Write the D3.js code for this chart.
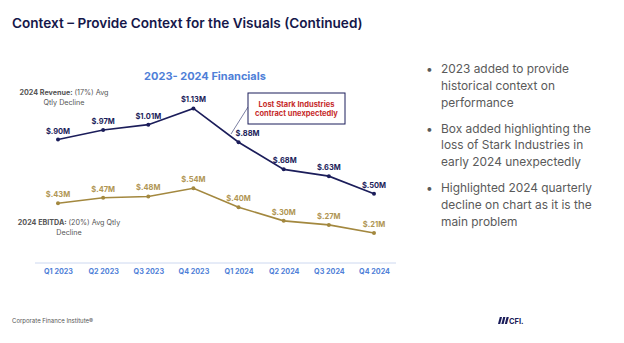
<!DOCTYPE html>
<html>
<head>
  <meta charset="utf-8">
  <title>2023-2024 Financials</title>
  <script src="https://cdnjs.cloudflare.com/ajax/libs/d3/7.8.5/d3.min.js"></script>
  <style>
    html, body { margin: 0; padding: 0; background: #fff; }
    svg { display: block; font-family: Inter, "Noto Sans", sans-serif; }
  </style>
</head>
<body>
  <svg id="chart" width="624" height="343"></svg>
  <script>
    const quarters = ['Q1 2023', 'Q2 2023', 'Q3 2023', 'Q4 2023', 'Q1 2024', 'Q2 2024', 'Q3 2024', 'Q4 2024']
    const revenue = [0.90, 0.97, 1.01, 1.13, 0.88, 0.68, 0.63, 0.50]
    const revenueLabels = ['$.90M', '$.97M', '$1.01M', '$1.13M', '$.88M', '$.68M', '$.63M', '$.50M']
    const ebitda = [0.43, 0.47, 0.48, 0.54, 0.40, 0.30, 0.27, 0.21]
    const ebitdaLabels = ['$.43M', '$.47M', '$.48M', '$.54M', '$.40M', '$.30M', '$.27M', '$.21M']
    const bullets = [
      ['2023 added to provide', 'historical context on', 'performance'],
      ['Box added highlighting the', 'loss of Stark Industries in', 'early 2024 unexpectedly'],
      ['Highlighted 2024 quarterly', 'decline on chart as it is the', 'main problem']
    ]

    const navy = '#1b1d5a'
    const gold = '#a3883f'
    const blue = '#4f7fd8'

    const svg = d3.select('#chart')

    // page title
    svg.append('text')
      .attr('x', 12).attr('y', 28)
      .attr('font-size', 13.6).attr('font-weight', 600)
      .attr('fill', '#15174a')
      .text('Context – Provide Context for the Visuals (Continued)')

    // chart title
    svg.append('text')
      .attr('x', 205).attr('y', 80)
      .attr('text-anchor', 'middle')
      .attr('font-size', 11).attr('font-weight', 700)
      .attr('fill', blue)
      .text('2023- 2024 Financials')

    const x = d3.scalePoint().domain(quarters).range([58, 374])
    const y = d3.scaleLinear().domain([0, 1.2]).range([261.5, 98.9])

    // baseline + quarter labels
    svg.append('line')
      .attr('x1', 35).attr('x2', 396)
      .attr('y1', 263).attr('y2', 263)
      .attr('stroke', '#cdd8f0').attr('stroke-width', 1)

    const xAxis = svg.append('g')
      .attr('transform', 'translate(0,263)')
      .call(d3.axisBottom(x).tickSize(0).tickPadding(6))
    xAxis.select('.domain').remove()
    xAxis.selectAll('text')
      .attr('font-family', 'Inter, sans-serif')
      .attr('font-size', 7.2).attr('font-weight', 700)
      .attr('fill', blue)

    const line = d3.line().x((d, i) => x(quarters[i])).y(d => y(d))

    function series(values, labels, color, labelColor, offsets) {
      svg.append('path')
        .datum(values)
        .attr('d', line)
        .attr('fill', 'none')
        .attr('stroke', color)
        .attr('stroke-width', 1.6)
      svg.append('g').selectAll('circle')
        .data(values).join('circle')
        .attr('cx', (d, i) => x(quarters[i]))
        .attr('cy', d => y(d))
        .attr('r', 2)
        .attr('fill', color)
      svg.append('g').selectAll('text')
        .data(values).join('text')
        .attr('x', (d, i) => x(quarters[i]) + (offsets[i] || 0))
        .attr('y', d => y(d) - 6)
        .attr('text-anchor', 'middle')
        .attr('font-size', 7.5).attr('font-weight', 700)
        .attr('fill', labelColor)
        .text((d, i) => labels[i])
    }

    series(revenue, revenueLabels, navy, navy, [0, 0, 0, 0, 9, 1, 0, 0])
    series(ebitda, ebitdaLabels, gold, '#b09654', [0, 0, 0, 0, 0, 0, 0, 0])

    // side notes on the chart
    function note(xc, y0, bold, rest, second) {
      const t = svg.append('text')
        .attr('x', xc).attr('y', y0)
        .attr('text-anchor', 'middle')
        .attr('font-size', 7.2).attr('fill', '#555')
      t.append('tspan').attr('font-weight', 700).text(bold)
      t.append('tspan').text(rest)
      svg.append('text')
        .attr('x', xc).attr('y', y0 + 9.5)
        .attr('text-anchor', 'middle')
        .attr('font-size', 7.2).attr('fill', '#555')
        .text(second)
    }
    note(64, 95, '2024 Revenue: ', '(17%) Avg', 'Qtly Decline')
    note(69, 225, '2024 EBITDA: ', '(20%) Avg Qtly', 'Decline')

    // callout box
    svg.append('line')
      .attr('x1', 248).attr('y1', 107)
      .attr('x2', 231).attr('y2', 134)
      .attr('stroke', '#5a5f8a').attr('stroke-width', 0.8)
    svg.append('rect')
      .attr('x', 248).attr('y', 93)
      .attr('width', 97).attr('height', 31)
      .attr('fill', '#fff')
      .attr('stroke', navy).attr('stroke-width', 1)
    svg.selectAll('.callout')
      .data(['Lost Stark Industries', 'contract unexpectedly'])
      .join('text')
      .attr('x', 296.5).attr('y', (d, i) => 107 + i * 8.5)
      .attr('text-anchor', 'middle')
      .attr('font-size', 7.5).attr('font-weight', 700)
      .attr('fill', '#c62b2b')
      .text(d => d)

    // bullet list
    let ly = 73
    bullets.forEach(para => {
      svg.append('text')
        .attr('x', 426).attr('y', ly)
        .attr('font-size', 12).attr('fill', '#5a5a5a')
        .text('•')
      para.forEach((s, i) => {
        svg.append('text')
          .attr('x', 441).attr('y', ly + i * 16.8)
          .attr('font-size', 11.9).attr('fill', '#5a5a5a')
          .text(s)
      })
      ly += 59.5
    })

    // footer
    svg.append('text')
      .attr('x', 12).attr('y', 323)
      .attr('font-size', 6).attr('fill', '#555')
      .text('Corporate Finance Institute®')

    const logo = svg.append('g').attr('transform', 'translate(498,317)')
    ;[0, 3.4, 6.8].forEach(dx => {
      logo.append('path')
        .attr('d', `M${dx + 1.8},0 L${dx + 4},0 L${dx + 2.2},7 L${dx},7 Z`)
        .attr('fill', navy)
    })
    logo.append('text')
      .attr('x', 11).attr('y', 7)
      .attr('font-size', 7.5).attr('font-weight', 700)
      .attr('fill', navy)
      .text('CFI.')
  </script>
</body>
</html>
